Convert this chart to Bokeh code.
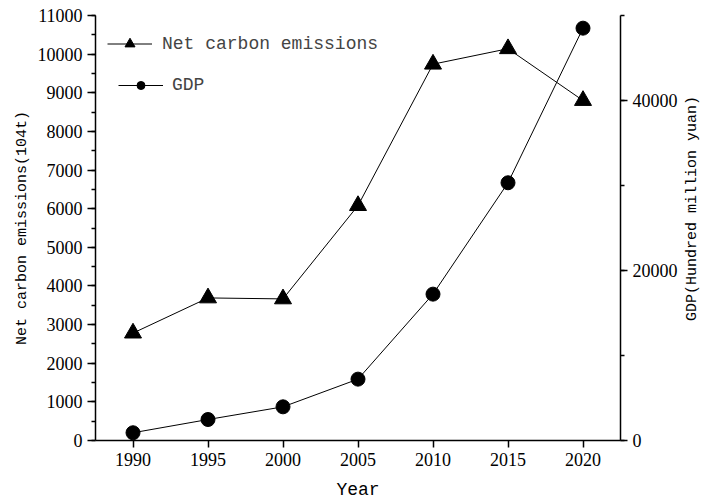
import math

from bokeh.plotting import figure
from bokeh.layouts import row
from bokeh.models import (Range1d, LinearAxis, FixedTicker, SingleIntervalTicker,
                          Legend, LegendItem)
from bokeh.core.properties import value
from bokeh.embed import file_html
from bokeh.resources import INLINE

# Data
years = [1990, 1995, 2000, 2005, 2010, 2015, 2020]
net_carbon = [2780, 3690, 3665, 6080, 9740, 10140, 8800]   # 10^4 t
gdp = [910, 2470, 3960, 7220, 17220, 30320, 48510]         # hundred million yuan

year_ticks = [1990, 1995, 2000, 2005, 2010, 2015, 2020]

SERIF = "Liberation Serif"
MONO = "Liberation Mono"

p = figure(width=680, height=504, output_backend="svg", toolbar_location=None,
           x_range=Range1d(1987.5, 2022.5), y_range=Range1d(0, 11000),
           min_border_left=95, min_border_right=59,
           min_border_top=15, min_border_bottom=64)
p.extra_y_ranges = {"gdp": Range1d(0, 50000)}
p.outline_line_color = None
p.xgrid.visible = False
p.ygrid.visible = False
p.background_fill_color = "white"
p.border_fill_color = "white"

# Axes
xa = p.xaxis[0]
xa.ticker = FixedTicker(ticks=year_ticks, minor_ticks=[])
xa.axis_label = "Year"
xa.axis_label_text_font = MONO
xa.axis_label_text_font_size = "18px"
xa.axis_label_text_font_style = "normal"
xa.axis_label_standoff = 11
xa.major_label_text_font = SERIF
xa.major_label_text_font_size = "18px"
xa.major_tick_out = 7
xa.major_tick_in = 0
xa.major_label_standoff = 5

ya = p.yaxis[0]
ya.ticker = SingleIntervalTicker(interval=1000, num_minor_ticks=2)
ya.axis_label = "Net carbon emissions(104t)"
ya.axis_label_text_font = MONO
ya.axis_label_text_font_size = "15px"
ya.axis_label_text_font_style = "normal"
ya.axis_label_standoff = 4
ya.major_label_text_font = SERIF
ya.major_label_text_font_size = "18px"
ya.major_tick_out = 8
ya.major_tick_in = 0
ya.minor_tick_out = 4
ya.minor_tick_in = 0
ya.major_label_standoff = 5

ra = LinearAxis(y_range_name="gdp",
                ticker=SingleIntervalTicker(interval=20000, num_minor_ticks=2))
ra.major_label_text_font = SERIF
ra.major_label_text_font_size = "18px"
ra.major_tick_out = 7
ra.major_tick_in = 0
ra.minor_tick_out = 4
ra.minor_tick_in = 0
ra.major_label_standoff = 5
p.add_layout(ra, "right")

for ax in (xa, ya, ra):
    ax.axis_line_width = 1.5
    ax.major_tick_line_width = 1.5
    ax.minor_tick_line_width = 1.5
    ax.axis_line_color = "black"
    ax.major_tick_line_color = "black"
    ax.minor_tick_line_color = "black"
    ax.major_label_text_color = "black"
    ax.axis_label_text_color = "black"

# Series
c_line = p.line(years, net_carbon, line_color="black", line_width=1)
c_pts = p.scatter(years, net_carbon, marker="triangle", size=17,
                  fill_color="black", line_color="black")
g_line = p.line(years, gdp, line_color="black", line_width=1, y_range_name="gdp")
g_pts = p.scatter(years, gdp, marker="circle", size=14,
                  fill_color="black", line_color="black", y_range_name="gdp")

# Legends
leg1 = Legend(items=[LegendItem(label="Net carbon emissions", renderers=[c_line, c_pts])],
              location=(12, 384), margin=0, padding=0,
              glyph_width=45, glyph_height=25, label_standoff=10,
              label_text_font=MONO, label_text_font_size="18px",
              border_line_color=None, background_fill_alpha=0)
leg2 = Legend(items=[LegendItem(label="GDP", renderers=[g_line, g_pts])],
              location=(23, 345), margin=0, padding=0,
              glyph_width=45, glyph_height=20, label_standoff=9,
              label_text_font=MONO, label_text_font_size="18px",
              border_line_color=None, background_fill_alpha=0)
p.add_layout(leg1)
p.add_layout(leg2)

# Narrow strip carrying the GDP axis title, read bottom-to-top
side_w = 27
side = figure(width=side_w, height=504, output_backend="svg", toolbar_location=None,
              x_range=Range1d(0, side_w), y_range=Range1d(0, 504),
              x_axis_type=None, y_axis_type=None,
              min_border=0, min_border_left=0, min_border_right=0,
              min_border_top=0, min_border_bottom=0)
side.outline_line_color = None
side.xgrid.visible = False
side.ygrid.visible = False
side.background_fill_color = "white"
side.border_fill_color = "white"
side.text(x=[12], y=[275], text=["GDP(Hundred million yuan)"], angle=math.pi / 2,
          text_align="center", text_baseline="middle",
          text_font=value(MONO), text_font_size="15px", text_color="black")

layout = row(p, side, spacing=0)

open("out.html", "w").write(file_html(layout, INLINE))
